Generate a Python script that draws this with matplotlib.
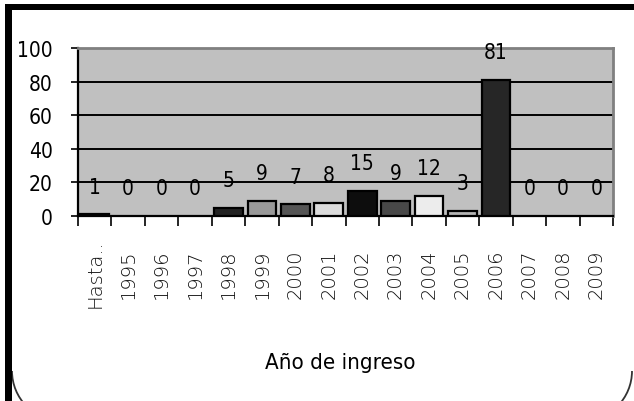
import matplotlib
matplotlib.use("Agg")
import matplotlib.pyplot as plt
from matplotlib.patches import Arc, Rectangle
from matplotlib.transforms import IdentityTransform

# Students by year of entry
categories = ["Hasta..", "1995", "1996", "1997", "1998", "1999", "2000", "2001",
              "2002", "2003", "2004", "2005", "2006", "2007", "2008", "2009"]
values = [1, 0, 0, 0, 5, 9, 7, 8, 15, 9, 12, 3, 81, 0, 0, 0]
bar_colors = ["#141414", "#c0c0c0", "#c0c0c0", "#c0c0c0", "#222222", "#999999",
              "#555555", "#dcdcdc", "#0d0d0d", "#484848", "#ececec", "#b4b4b4",
              "#262626", "#c0c0c0", "#c0c0c0", "#c0c0c0"]
y_ticks = [0, 20, 40, 60, 80, 100]
x_title = "Año de ingreso"

W, H = 634, 402
fig = plt.figure(figsize=(W / 100, H / 100), dpi=100)
fig.patch.set_facecolor("white")

narrow = dict(family="DejaVu Sans", stretch="condensed")

ax = fig.add_axes([78 / W, 1 - 217 / H, (613 - 78) / W, (217 - 49) / H])
ax.set_facecolor("#c0c0c0")

x = list(range(len(categories)))
for xi, v, c in zip(x, values, bar_colors):
    if v > 0:
        ax.bar(xi, v, width=0.86, color=c, edgecolor="black", linewidth=1.6, zorder=3)
    ax.text(xi, v + 16.5, str(v), ha="center", va="center", fontsize=15,
            color="black", zorder=4, **narrow)

ax.set_xlim(-0.5, len(categories) - 0.5)
ax.set_ylim(0, 100)
ax.set_yticks(y_ticks)
ax.set_yticklabels([str(t) for t in y_ticks], fontsize=15, **narrow)
ax.tick_params(axis="y", length=5, width=1.2, pad=13, direction="out")

# category labels centred under each bar, ticks on category boundaries
ax.set_xticks([i + 0.5 for i in range(-1, len(categories))])
ax.set_xticklabels([])
ax.tick_params(axis="x", length=7, width=1.2, direction="out")
for xi, lab in zip(x, categories):
    ax.text(xi, -34, lab, rotation=90, ha="center", va="center", fontsize=14,
            family="DejaVu Sans", fontweight="light", color="#111111",
            clip_on=False)

for gy in y_ticks[1:-1]:
    ax.axhline(gy, color="black", linewidth=1.4, zorder=1)

ax.spines["left"].set_color("black")
ax.spines["left"].set_linewidth(1.6)
ax.spines["bottom"].set_color("black")
ax.spines["bottom"].set_linewidth(1.6)
ax.spines["top"].set_color("#808080")
ax.spines["top"].set_linewidth(2)
ax.spines["right"].set_color("#808080")
ax.spines["right"].set_linewidth(2)

fig.text(340 / W, 1 - 363 / H, x_title, ha="center", va="center",
         fontsize=16, color="black", **narrow)

# chart frame: heavy top and left edges, rounded lower corners
ident = IdentityTransform()
fig.patches.append(Arc((62, 30), 100, 100, theta1=180, theta2=270,
                       transform=ident, edgecolor="#333333", linewidth=1.3))
fig.patches.append(Arc((582, 30), 100, 100, theta1=270, theta2=360,
                       transform=ident, edgecolor="#333333", linewidth=1.3))
fig.patches.append(Rectangle((5, 0), 7, H - 5, transform=ident,
                             facecolor="black", edgecolor="none"))
fig.patches.append(Rectangle((5, H - 11), W - 5, 6, transform=ident,
                             facecolor="black", edgecolor="none"))

fig.savefig("out.png", dpi=100, facecolor="white")
